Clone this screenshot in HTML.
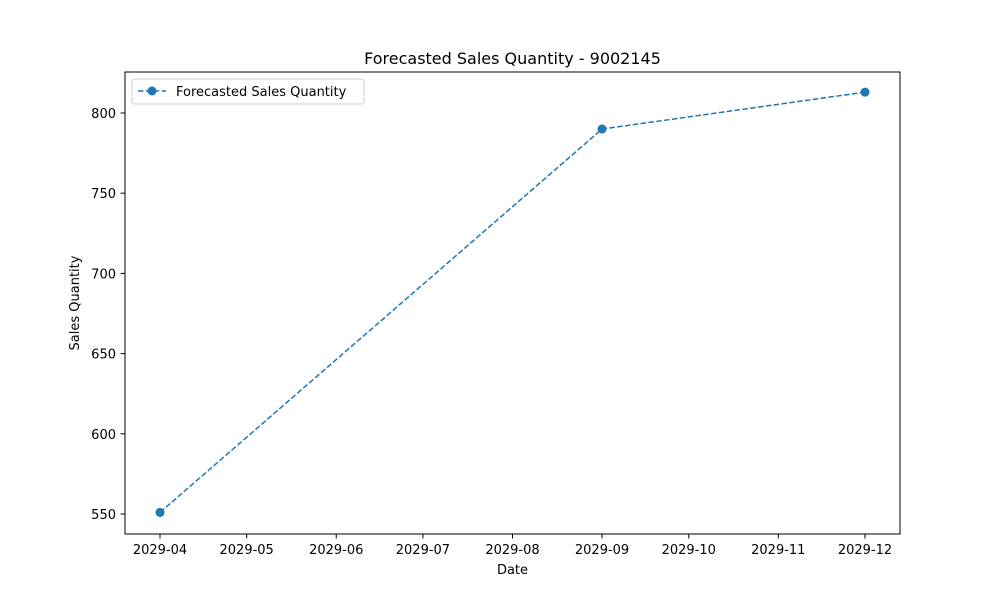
<!DOCTYPE html>
<html><head><meta charset="utf-8"><style>
body{margin:0;background:#fff;}
svg text{font-family:"DejaVu Sans","Liberation Sans",sans-serif;fill:#000;}
</style></head><body>
<svg id="chart" width="1000" height="600" xmlns="http://www.w3.org/2000/svg">
<rect width="1000" height="600" fill="#fff"/>
<text x="512.5" y="64" font-size="16" text-anchor="middle">Forecasted Sales Quantity - 9002145</text>
<g id="xticks"></g>
<g id="yticks"></g>
<g id="series"></g>
<rect x="125" y="72" width="775" height="462" fill="none" stroke="#000" stroke-width="1"/>
<text x="512.5" y="574" font-size="13" text-anchor="middle">Date</text>
<text x="0" y="0" font-size="13" text-anchor="middle" transform="translate(79,303) rotate(-90)">Sales Quantity</text>
<g>
<rect x="132" y="79" width="232" height="25" rx="3" fill="#fff" stroke="#ccc"/>
<line x1="138" y1="91" x2="166" y2="91" stroke="#1f77b4" stroke-width="1.5" stroke-dasharray="5.5,2.4"/>
<circle cx="152" cy="91" r="4.5" fill="#1f77b4"/>
<text x="176" y="96" font-size="13">Forecasted Sales Quantity</text>
</g>
</svg>
<script>
const dates = ["2029-04-01","2029-09-01","2029-12-01"];
const values = [551, 790, 813];
const xTickLabels = ["2029-04","2029-05","2029-06","2029-07","2029-08","2029-09","2029-10","2029-11","2029-12"];
const yTickValues = [550,600,650,700,750,800];

const NS="http://www.w3.org/2000/svg";
const t0=Date.UTC(2029,3,1), day=86400000;
function dayOf(s){const p=s.split("-").map(Number);return (Date.UTC(p[0],p[1]-1,p[2]||1)-t0)/day;}
function xs(d){return 160+d*(705/244);}
function ys(v){return 514-(v-550)*(401/250);}
function mk(tag,attrs,parent){const e=document.createElementNS(NS,tag);for(const k in attrs)e.setAttribute(k,attrs[k]);parent.appendChild(e);return e;}
const gx=document.getElementById("xticks"),gy=document.getElementById("yticks"),gs=document.getElementById("series");
xTickLabels.forEach(l=>{
  const x=xs(dayOf(l+"-01"));
  const ln=mk("line",{x1:x,x2:x,y1:534,y2:538.5,stroke:"#000"},gx);
  
  
  const t=mk("text",{x:x,y:554,"font-size":13,"text-anchor":"middle"},gx);t.textContent=l;
  
  
});
yTickValues.forEach(v=>{
  const y=ys(v);
  const ln=mk("line",{x1:120.5,x2:125,y1:y,y2:y,stroke:"#000"},gy);
  
  
  const t=mk("text",{x:116,y:y+5,"font-size":13,"text-anchor":"end"},gy);t.textContent=v;
  
  
});
const pts=dates.map((d,i)=>[xs(dayOf(d)),ys(values[i])]);
const pl=mk("polyline",{points:pts.map(p=>p.join(",")).join(" "),fill:"none",stroke:"#1f77b4","stroke-width":1.5,"stroke-dasharray":"5.5,2.4"},gs);


pts.forEach(p=>{
  const c=mk("circle",{cx:p[0],cy:p[1],r:4.5,fill:"#1f77b4"},gs);
  
  
});
</script>
</body></html>
